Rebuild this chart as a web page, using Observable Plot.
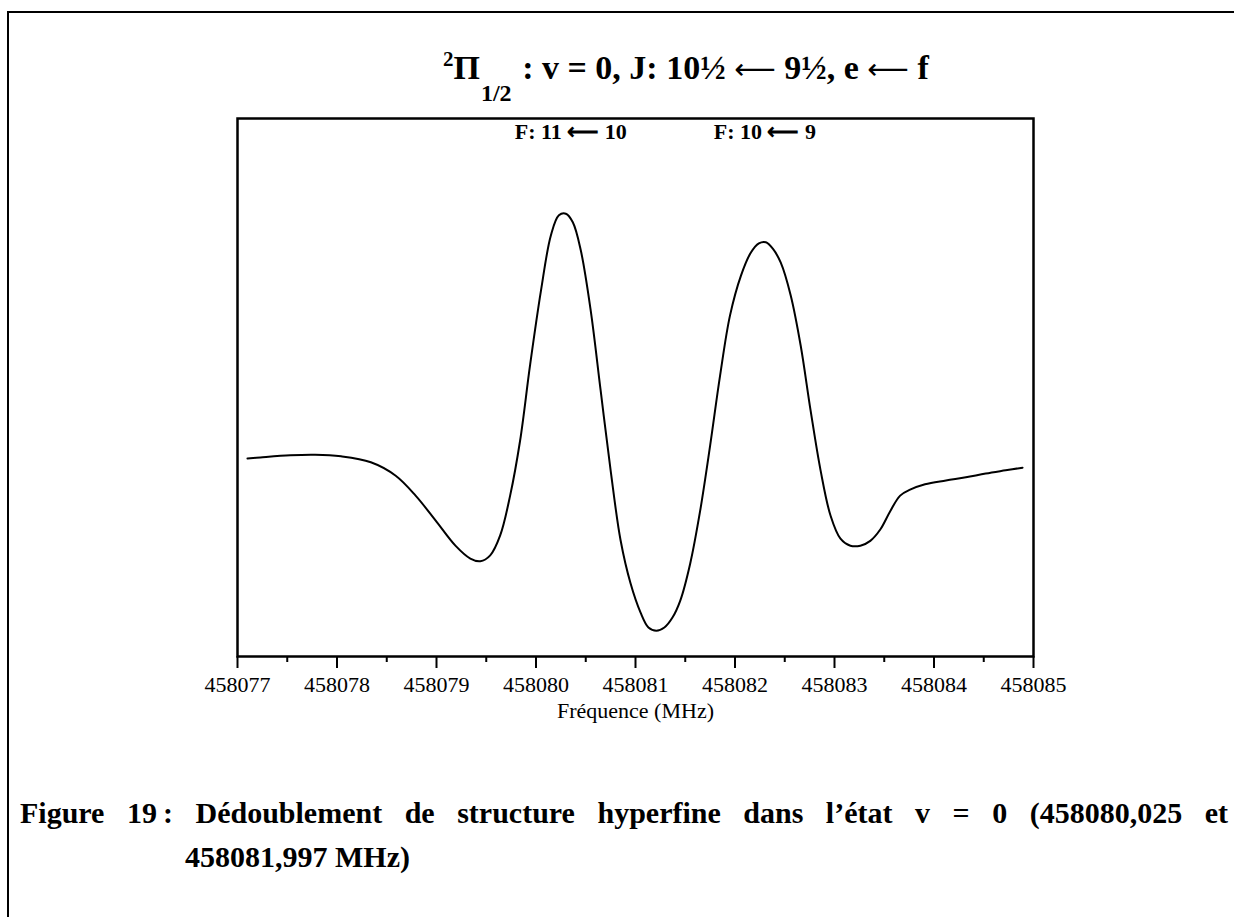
<!DOCTYPE html>
<html>
<head>
<meta charset="utf-8">
<script src="https://cdn.jsdelivr.net/npm/d3@7"></script>
<script src="https://cdn.jsdelivr.net/npm/@observablehq/plot@0.6"></script>
<style>
  html, body { margin: 0; padding: 0; background: #fff; }
  #page { position: relative; width: 1234px; height: 917px; overflow: hidden; font-family: "Liberation Serif", "Times New Roman", serif; color: #000; }
  #border { position: absolute; left: 7px; top: 11px; width: 1240px; height: 920px; border-left: 2px solid #000; border-top: 2px solid #000; }
  #chart { position: absolute; left: 0; top: 0; }
  #title { position: absolute; left: 443px; top: 51px; font-weight: bold; font-size: 34px; line-height: 34px; white-space: nowrap; }
  #title .sup { font-size: 21px; position: relative; top: -13px; }
  #title .sub { font-size: 24px; position: relative; top: 22px; margin-left: 1px; margin-right: 2px; }
  #title .arr { font-family: "DejaVu Sans", sans-serif; font-weight: normal; font-size: 29px; }
  #cap1 { position: absolute; left: 20px; top: 797px; width: 1208px; font-weight: bold; font-size: 30px; line-height: 32px; text-align: justify; text-align-last: justify; white-space: nowrap; }
  #cap2 { position: absolute; left: 185px; top: 841px; font-weight: bold; font-size: 30px; line-height: 32px; white-space: nowrap; }
</style>
</head>
<body>
<div id="page">
  <div id="border"></div>
  <div id="chart"></div>
  <div id="title"><span class="sup">2</span>Π<span class="sub">1/2</span> : v = 0, J: 10½ <span class="arr">⟵</span> 9½, e <span class="arr">⟵</span> f</div>
  <div id="cap1">Figure 19&#8239;: Dédoublement de structure hyperfine dans l’état v = 0 (458080,025 et</div>
  <div id="cap2">458081,997 MHz)</div>
</div>
<script>
// Frequency (MHz) of each sampled point of the recorded line profile
const freq = [
  458077.10, 458077.23, 458077.53, 458077.78, 458078.04, 458078.34, 458078.59, 458078.79,
  458078.99, 458079.19, 458079.34, 458079.44, 458079.54, 458079.64, 458079.74, 458079.84,
  458079.94, 458080.05, 458080.15, 458080.23, 458080.30, 458080.37, 458080.45, 458080.55,
  458080.65, 458080.75, 458080.85, 458080.95, 458081.05, 458081.13, 458081.21, 458081.29,
  458081.37, 458081.45, 458081.55, 458081.65, 458081.75, 458081.85, 458081.95, 458082.06,
  458082.16, 458082.24, 458082.31, 458082.38, 458082.46, 458082.56, 458082.66, 458082.76,
  458082.86, 458082.96, 458083.06, 458083.16, 458083.26, 458083.36, 458083.46, 458083.56,
  458083.66, 458083.76, 458083.91, 458084.12, 458084.32, 458084.52, 458084.72, 458084.89
];
// Signal (arbitrary units, 0–100 across the frame height)
const signal = [
  36.8, 37.0, 37.4, 37.5, 37.2, 36.1, 33.6, 29.9,
  25.3, 20.6, 18.2, 17.7, 18.8, 22.5, 29.9, 40.1,
  54.1, 68.0, 78.3, 82.0, 82.3, 80.7, 75.5, 64.3,
  49.4, 34.6, 21.6, 13.6, 8.2, 5.4, 4.8, 5.4,
  7.2, 10.4, 17.3, 27.1, 39.2, 52.2, 63.4, 70.8,
  75.1, 76.8, 77.0, 75.8, 73.2, 67.1, 57.8, 45.7,
  34.6, 26.2, 21.9, 20.6, 20.6, 21.5, 23.6, 27.0,
  29.9, 31.0, 32.0, 32.7, 33.3, 34.0, 34.6, 35.1
];
const majorTicks = [458077, 458078, 458079, 458080, 458081, 458082, 458083, 458084, 458085];
const minorTicks = [458077.5, 458078.5, 458079.5, 458080.5, 458081.5, 458082.5, 458083.5, 458084.5];
const annotX = [458080.35, 458082.30];
const annotText = ["F: 11 ⟵ 10", "F: 10 ⟵ 9"];
const xLabel = "Fréquence (MHz)";

const data = freq.map((f, i) => ({f, s: signal[i]}));
const annots = annotX.map((x, i) => ({x, t: annotText[i]}));

const chart = Plot.plot({
  width: 1234,
  height: 760,
  marginLeft: 237,
  marginRight: 201,
  marginTop: 118,
  marginBottom: 104,
  style: {fontFamily: "'Liberation Serif', 'Times New Roman', serif", fontSize: "22px", background: "transparent", color: "#000"},
  x: {domain: [458077, 458085]},
  y: {domain: [0, 100], axis: null},
  marks: [
    Plot.axisX({ticks: majorTicks, tickSize: 12, tickPadding: 8, strokeWidth: 2, tickFormat: d => String(d),
      label: xLabel, labelAnchor: "center", labelArrow: "none", labelOffset: 61, fontSize: 22}),
    Plot.axisX({ticks: minorTicks, tickSize: 6, strokeWidth: 2, text: null, label: null}),
    Plot.line(data, {x: "f", y: "s", stroke: "#000", strokeWidth: 2, curve: "catmull-rom"}),
    Plot.text(annots, {x: "x", text: "t", frameAnchor: "top", dy: 5, fontWeight: "bold", fontSize: 22}),
    Plot.frame({stroke: "#000", strokeWidth: 2.5})
  ]
});
document.getElementById("chart").appendChild(chart);
</script>
</body>
</html>
